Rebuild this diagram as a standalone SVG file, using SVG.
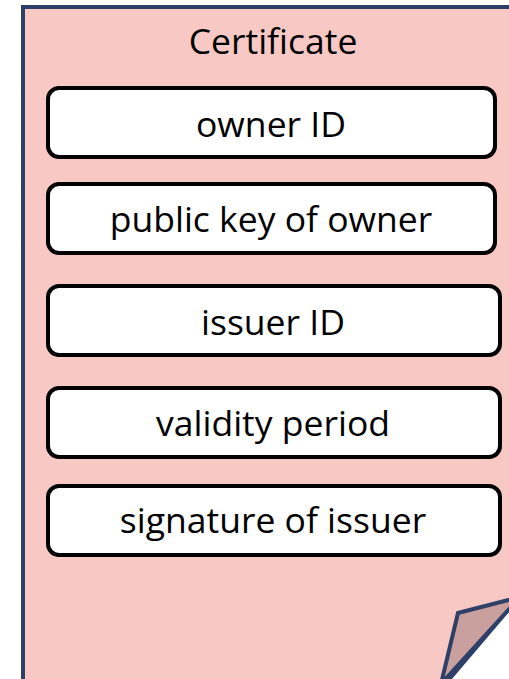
<svg xmlns="http://www.w3.org/2000/svg" width="509" height="679" viewBox="0 0 509 679">
  <style>
    .sheet { fill: #f8c8c4; stroke: #2f4068; stroke-width: 4; stroke-linejoin: miter; }
    .fold { fill: #c9a09d; stroke: #2f4068; stroke-width: 4; stroke-linejoin: miter; }
    .field rect { fill: #ffffff; stroke: #000000; stroke-width: 4; }
    text { font-family: "Open Sans", "Liberation Sans", sans-serif; font-size: 35.5px; fill: #000000; text-anchor: middle; }
  </style>
  <rect width="509" height="679" fill="#ffffff"/>

  <g id="certificate">
    <path class="sheet" d="M23,7 L520,7 L520,596 L440,690 L23,690 Z"/>
    <path class="fold" d="M441,684 L458,613 L520,597 Z"/>
    <text x="273" y="54">Certificate</text>
  </g>

  <g id="owner-id" class="field">
    <rect x="48" y="88" width="447" height="69" rx="11"/>
    <text x="271" y="137">owner ID</text>
  </g>
  <g id="public-key" class="field">
    <rect x="48" y="184" width="447" height="69" rx="11"/>
    <text x="271" y="232">public key of owner</text>
  </g>
  <g id="issuer-id" class="field">
    <rect x="48" y="286" width="452" height="69" rx="11"/>
    <text x="273" y="335">issuer ID</text>
  </g>
  <g id="validity-period" class="field">
    <rect x="48" y="388" width="452" height="69" rx="11"/>
    <text x="273" y="436">validity period</text>
  </g>
  <g id="signature" class="field">
    <rect x="48" y="486" width="452" height="69" rx="11"/>
    <text x="273" y="533">signature of issuer</text>
  </g>

  <g id="connectors"/>
</svg>
